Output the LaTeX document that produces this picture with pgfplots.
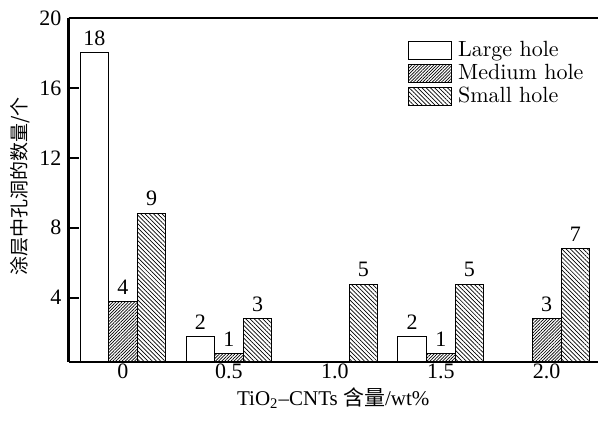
\documentclass[border=0pt]{standalone}
\usepackage{pgfplots}
\pgfplotsset{compat=1.18}
\usetikzlibrary{patterns.meta}
\usepackage{fontspec}
\setmainfont{Liberation Serif}
\newfontfamily\cjk{Noto Sans CJK SC}
\newfontfamily\lmr{lmroman10-regular.otf}
\begin{document}
\begin{tikzpicture}
\begin{axis}[
  scale only axis,
  width=264.75pt, height=172pt,
  xmin=-0.514, xmax=4.484,
  ymin=0.32, ymax=20,
  ybar, bar width=0.27,
  axis x line=box, axis y line=left,
  axis line style={-, line width=1.1pt},
  x axis line style={-}, y axis line style={-},
  xtick={0,1,2,3,4},
  xticklabels={0,0.5,1.0,1.5,2.0},
  xtick style={draw=none},
  ytick={4,8,12,16,20},
  ytick pos=left,
  tick align=inside,
  major tick length=5pt,
  ytick style={line width=1.1pt, black},
  /pgf/number format/assume math mode=true,
  tick label style={font=\fontsize{11}{13}\selectfont},
  xticklabel style={yshift=2.5pt},
  xlabel={TiO\textsubscript{2}–CNTs {\cjk 含量}/wt\%},
  xlabel style={at={(axis description cs:0.5,-0.105)}, anchor=center, font=\fontsize{10.5}{12}\selectfont},
  ylabel={\cjk 涂层中孔洞的数量/个},
  ylabel style={at={(axis description cs:-0.0916,0.51)}, anchor=center, font=\fontsize{9.5}{11}\selectfont},
  legend style={at={(axis description cs:0.6406,0.94)}, anchor=north west, draw=none, fill=none,
    font=\lmr\fontsize{11}{11}\selectfont, inner sep=0pt, row sep=0pt, column sep=3pt,
    nodes={inner xsep=0pt, inner ysep=0.75pt, text height=8pt, text depth=2pt}},
  legend cell align=left,
  legend image code/.code={\draw[#1, line width=0.5pt] (0pt,-4.5pt) rectangle (21.5pt,4.5pt);},
  nodes near coords,
  point meta=explicit symbolic,
  nodes near coords style={font=\fontsize{11}{13}\selectfont, black},
]
\addplot[bar shift=-0.27, fill=white, draw=black, line width=0.5pt]
  coordinates {(0,18)[18] (1,1.78)[2] (3,1.78)[2]};
\addlegendentry{Large hole}
\addplot[bar shift=0, draw=black, line width=0.5pt,
  pattern={Lines[angle=45,distance=1.1pt,line width=0.35pt]}]
  coordinates {(0,3.77)[4] (1,0.78)[1] (3,0.78)[1] (4,2.78)[3]};
\addlegendentry{Medium hole}
\addplot[bar shift=0.27, draw=black, line width=0.5pt,
  pattern={Lines[angle=-45,distance=1.5pt,line width=0.35pt]}]
  coordinates {(0,8.83)[9] (1,2.78)[3] (2,4.78)[5] (3,4.78)[5] (4,6.82)[7]};
\addlegendentry{Small hole}
\coordinate (bbSW) at (rel axis cs:-0.1294,-0.1715);
\coordinate (bbNE) at (rel axis cs:1,1.0523);
\end{axis}
\pgfresetboundingbox
\path (bbSW) rectangle (bbNE);
\end{tikzpicture}
\end{document}
